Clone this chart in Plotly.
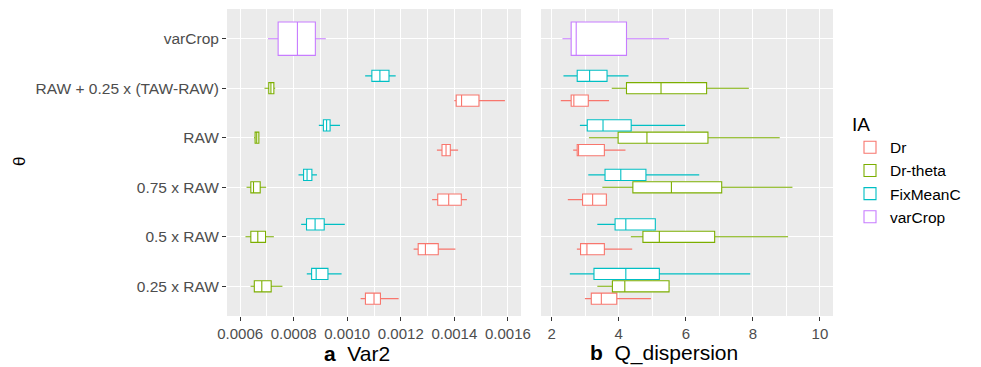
import plotly.graph_objects as go

# ---------------- data ----------------
CATEGORIES = ["0.25 x RAW", "0.5 x RAW", "0.75 x RAW", "RAW",
              "RAW + 0.25 x (TAW-RAW)", "varCrop"]
IA_GROUPS = ["Dr", "Dr-theta", "FixMeanC", "varCrop"]
COLORS = ["#F8766D", "#7CAE00", "#00BFC4", "#C77CFF"]

# each row: [lower whisker, q1, median, q3, upper whisker], one row per category
VAR2_DR = [[0.00105, 0.001068, 0.0011, 0.001124, 0.001192],
           [0.001248, 0.001265, 0.001292, 0.00134, 0.001404],
           [0.001317, 0.001338, 0.001379, 0.001426, 0.001447],
           [0.001335, 0.001354, 0.001369, 0.001385, 0.001414],
           [0.0014, 0.001407, 0.001427, 0.001492, 0.001589]]
VAR2_DRTHETA = [[0.000639, 0.000653, 0.000681, 0.000716, 0.000758],
                [0.00062, 0.00064, 0.000666, 0.000695, 0.000726],
                [0.000624, 0.00064, 0.00065, 0.000675, 0.000697],
                [0.000652, 0.000656, 0.000662, 0.00067, 0.000672],
                [0.000691, 0.000707, 0.000715, 0.000726, 0.000731]]
VAR2_FIXMEANC = [[0.000849, 0.000867, 0.000884, 0.000928, 0.000979],
                 [0.000828, 0.000848, 0.00088, 0.000914, 0.000991],
                 [0.000818, 0.000837, 0.00085, 0.000868, 0.000887],
                 [0.000894, 0.000911, 0.000923, 0.000936, 0.000973],
                 [0.001067, 0.001092, 0.001122, 0.001156, 0.001181]]
VAR2_VARCROP = [[0.000704, 0.000742, 0.000814, 0.000881, 0.00092]]

QDISP_DR = [[2.99, 3.18, 3.48, 3.94, 4.96],
            [2.75, 2.86, 3.05, 3.57, 4.40],
            [2.48, 2.92, 3.22, 3.63, 3.65],
            [2.64, 2.76, 2.80, 3.57, 4.20],
            [2.27, 2.58, 2.66, 3.09, 3.71]]
QDISP_DRTHETA = [[3.36, 3.81, 4.18, 5.50, 5.50],
                 [4.36, 4.72, 5.21, 6.86, 9.05],
                 [3.51, 4.42, 5.57, 7.07, 9.18],
                 [3.11, 3.98, 4.84, 6.66, 8.80],
                 [3.79, 4.23, 5.26, 6.62, 7.88]]
QDISP_FIXMEANC = [[2.54, 3.26, 4.21, 5.21, 7.92],
                  [3.36, 3.89, 4.21, 5.09, 5.10],
                  [3.09, 3.59, 4.06, 4.81, 6.40],
                  [2.84, 3.06, 3.53, 4.37, 5.98],
                  [2.35, 2.76, 3.13, 3.65, 4.29]]
QDISP_VARCROP = [[2.32, 2.58, 2.73, 4.23, 5.50]]

VAR2_TICKS = [0.0006, 0.0008, 0.0010, 0.0012, 0.0014, 0.0016]
QDISP_TICKS = [2, 4, 6, 8, 10]

# ---------------- figure ----------------
W, H = 981, 367
FONT = "Liberation Sans, Arial, sans-serif"

fig = go.Figure()

panels = [
    ("x", "y", [VAR2_DR, VAR2_DRTHETA, VAR2_FIXMEANC, VAR2_VARCROP], True),
    ("x2", "y2", [QDISP_DR, QDISP_DRTHETA, QDISP_FIXMEANC, QDISP_VARCROP], False),
]
offsets = [-0.25, 0.0, 0.25]

for xa, ya, groups, show in panels:
    for g, (name, color, stats) in enumerate(zip(IA_GROUPS, COLORS, groups)):
        if name == "varCrop":
            pos = [CATEGORIES.index("varCrop")]
            width = 0.675
        else:
            pos = [i + offsets[g] for i in range(len(stats))]
            width = 0.225
        fig.add_trace(go.Box(
            name=name, legendgroup=name, showlegend=show,
            orientation="h", y=pos,
            lowerfence=[s[0] for s in stats], q1=[s[1] for s in stats],
            median=[s[2] for s in stats], q3=[s[3] for s in stats],
            upperfence=[s[4] for s in stats],
            width=width, whiskerwidth=0, fillcolor="white",
            line=dict(color=color, width=1.1),
            xaxis=xa, yaxis=ya, hoverinfo="skip",
        ))

grid = dict(showgrid=True, gridcolor="white", gridwidth=1.3, zeroline=False,
            ticks="outside", ticklen=4, tickcolor="#333333", tickwidth=1,
            showline=False, automargin=False,
            tickfont=dict(family=FONT, size=15, color="#4D4D4D"))

fig.update_layout(
    width=W, height=H,
    margin=dict(l=0, r=0, t=0, b=0),
    paper_bgcolor="white", plot_bgcolor="#EBEBEB",
    font=dict(family=FONT),
    boxmode="overlay",
    xaxis=dict(domain=[227 / W, 521 / W], range=[0.000551, 0.001649],
               tickvals=VAR2_TICKS, tickformat=".4f",
               minor=dict(dtick=0.0001, tick0=0.0007, showgrid=True,
                          gridcolor="white", gridwidth=0.6, ticks=""),
               anchor="y", **grid),
    xaxis2=dict(domain=[541 / W, 833 / W], range=[1.68, 10.39],
                tickvals=QDISP_TICKS,
                minor=dict(dtick=1, tick0=1, showgrid=True,
                           gridcolor="white", gridwidth=0.6, ticks=""),
                anchor="y2", **grid),
    yaxis=dict(domain=[1 - 316 / H, 1 - 9 / H], range=[-0.6, 5.6],
               tickvals=list(range(len(CATEGORIES))), ticktext=CATEGORIES,
               anchor="x", **{**grid, "tickfont": dict(family=FONT, size=15.5, color="#4D4D4D")}),
    yaxis2=dict(domain=[1 - 316 / H, 1 - 9 / H], range=[-0.6, 5.6],
                tickvals=list(range(len(CATEGORIES))), showticklabels=False,
                anchor="x2", showgrid=True, gridcolor="white", gridwidth=1.3,
                zeroline=False, ticks="", automargin=False),
    legend=dict(x=850 / W, y=1 - 106 / H, xanchor="left", yanchor="top",
                title=dict(text="IA", font=dict(family=FONT, size=19, color="black")),
                font=dict(family=FONT, size=15.5, color="black"),
                bgcolor="rgba(0,0,0,0)", tracegroupgap=0, itemwidth=30),
    annotations=[
        dict(text="<b>a</b>  Var2", x=322 / W, y=1 - 353 / H, xref="paper", yref="paper",
             xanchor="left", yanchor="middle", showarrow=False,
             font=dict(family=FONT, size=21, color="black")),
        dict(text="<b>b</b>  Q_dispersion", x=588 / W, y=1 - 353 / H, xref="paper", yref="paper",
             xanchor="left", yanchor="middle", showarrow=False,
             font=dict(family=FONT, size=21, color="black")),
        dict(text="θ", x=19 / W, y=1 - 162 / H, xref="paper", yref="paper",
             xanchor="center", yanchor="middle", showarrow=False, textangle=-90,
             font=dict(family=FONT, size=17, color="black")),
    ],
)

fig.write_html("out.html", config={"displayModeBar": False},
               post_script="document.body.style.margin='0';")
